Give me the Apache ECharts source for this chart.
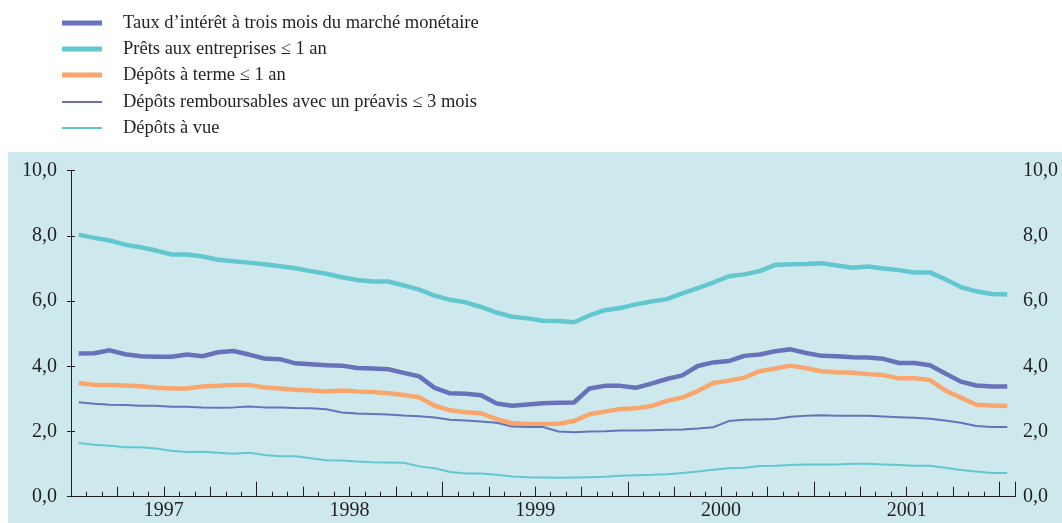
<!DOCTYPE html>
<html>
<head>
<meta charset="utf-8">
<script src="https://cdn.jsdelivr.net/npm/echarts@6/dist/echarts.min.js"></script>
<style>
  html, body { margin: 0; padding: 0; background: #fff; }
  #taux { width: 1062px; height: 523px; }
</style>
</head>
<body>
<div id="taux"></div>
<script>
// annees affichees sous l'axe (etiquette au milieu de chaque annee)
var years = ['1997', '1998', '1999', '2000', '2001'];

// un point par mois, de janvier 1997 a janvier 2002
var months = [];
for (var y = 1997; y <= 2002; y++) {
    for (var m = 1; m <= 12; m++) {
        if (months.length < 61) months.push(y + '-' + (m < 10 ? '0' + m : m));
    }
}

var tauxMarche = [
    4.39, 4.40, 4.49, 4.37, 4.31, 4.29, 4.29, 4.36, 4.31, 4.43, 4.47, 4.36,
    4.24, 4.22, 4.09, 4.06, 4.03, 4.02, 3.95, 3.93, 3.91, 3.80, 3.69, 3.34,
    3.17, 3.16, 3.11, 2.86, 2.79, 2.83, 2.87, 2.88, 2.89, 3.32, 3.40, 3.40,
    3.34, 3.47, 3.61, 3.72, 4.01, 4.12, 4.16, 4.32, 4.36, 4.46, 4.52, 4.41,
    4.32, 4.31, 4.28, 4.27, 4.23, 4.10, 4.10, 4.03, 3.78, 3.53, 3.41, 3.38,
    3.38
];
var pretsEntreprises = [
    8.04, 7.94, 7.86, 7.73, 7.65, 7.55, 7.43, 7.43, 7.37, 7.27, 7.22, 7.18,
    7.13, 7.07, 7.01, 6.92, 6.84, 6.73, 6.65, 6.60, 6.60, 6.48, 6.35, 6.17,
    6.04, 5.96, 5.82, 5.65, 5.52, 5.47, 5.40, 5.39, 5.35, 5.56, 5.72, 5.79,
    5.90, 5.99, 6.06, 6.24, 6.40, 6.57, 6.76, 6.82, 6.92, 7.11, 7.13, 7.14,
    7.16, 7.09, 7.02, 7.06, 7.00, 6.95, 6.88, 6.88, 6.67, 6.43, 6.30, 6.22,
    6.20
];
var depotsTerme = [
    3.49, 3.43, 3.43, 3.41, 3.39, 3.34, 3.32, 3.32, 3.38, 3.40, 3.43, 3.43,
    3.35, 3.32, 3.28, 3.26, 3.23, 3.26, 3.23, 3.21, 3.17, 3.12, 3.05, 2.79,
    2.65, 2.59, 2.56, 2.38, 2.26, 2.23, 2.23, 2.24, 2.32, 2.53, 2.61, 2.69,
    2.71, 2.78, 2.94, 3.04, 3.24, 3.49, 3.56, 3.65, 3.85, 3.93, 4.02, 3.94,
    3.85, 3.82, 3.80, 3.76, 3.73, 3.63, 3.63, 3.58, 3.26, 3.04, 2.82, 2.80,
    2.78
];
var depotsPreavis = [
    2.90, 2.85, 2.82, 2.81, 2.79, 2.79, 2.76, 2.76, 2.74, 2.73, 2.74, 2.77,
    2.74, 2.74, 2.72, 2.71, 2.68, 2.58, 2.55, 2.54, 2.52, 2.49, 2.47, 2.43,
    2.36, 2.34, 2.31, 2.27, 2.15, 2.14, 2.14, 2.00, 1.98, 2.00, 2.01, 2.03,
    2.03, 2.04, 2.05, 2.06, 2.09, 2.13, 2.32, 2.36, 2.37, 2.38, 2.45, 2.48,
    2.50, 2.48, 2.48, 2.48, 2.46, 2.44, 2.42, 2.39, 2.34, 2.27, 2.17, 2.14,
    2.14
];
var depotsVue = [
    1.65, 1.59, 1.56, 1.52, 1.52, 1.48, 1.41, 1.37, 1.38, 1.35, 1.32, 1.35,
    1.28, 1.24, 1.24, 1.18, 1.12, 1.11, 1.08, 1.06, 1.05, 1.04, 0.93, 0.87,
    0.76, 0.71, 0.71, 0.67, 0.62, 0.60, 0.59, 0.58, 0.59, 0.60, 0.61, 0.64,
    0.66, 0.67, 0.69, 0.73, 0.77, 0.83, 0.87, 0.89, 0.94, 0.95, 0.97, 0.99,
    0.99, 0.99, 1.01, 1.01, 0.99, 0.97, 0.95, 0.95, 0.89, 0.82, 0.77, 0.73,
    0.73
];

var noms = [
    'Taux d\u2019intérêt à trois mois du marché monétaire',
    'Prêts aux entreprises \u2264 1 an',
    'Dépôts à terme \u2264 1 an',
    'Dépôts remboursables avec un préavis \u2264 3 mois',
    'Dépôts à vue'
];

var police = '"Liberation Serif", "DejaVu Serif", serif';
var encre = '#231f20';

// chaque mois est place au milieu de sa case
function points(vals) {
    return vals.map(function (v, i) { return [i + 0.5, v]; });
}

function serie(nom, vals, couleur, epaisseur) {
    return {
        name: nom,
        type: 'line',
        data: points(vals),
        symbol: 'none',
        smooth: false,
        lineStyle: { color: couleur, width: epaisseur },
        itemStyle: { color: couleur },
        emphasis: { disabled: true }
    };
}

// deux legendes : traits epais puis traits fins
function legende(items, haut, epaisseur) {
    return {
        orient: 'vertical',
        left: 57,
        top: haut,
        icon: 'rect',
        itemWidth: 40,
        itemHeight: epaisseur,
        itemGap: 6,
        selectedMode: false,
        data: items,
        textStyle: {
            color: encre,
            fontFamily: police,
            fontSize: 18.5,
            lineHeight: 20,
            padding: [0, 0, 0, 16]
        }
    };
}

function axeX(pas, longueur, avecTexte) {
    return {
        type: 'value',
        min: 0,
        max: 61,
        interval: pas,
        position: 'bottom',
        splitLine: { show: false },
        axisLine: { show: avecTexte, lineStyle: { color: encre, width: 1 } },
        axisTick: { show: true, inside: true, length: longueur, lineStyle: { color: encre, width: 1 } },
        axisLabel: {
            show: avecTexte,
            margin: 4,
            color: encre,
            fontFamily: police,
            fontSize: 20,
            formatter: function (v) {
                return v % 12 === 6 ? years[(v - 6) / 12] : '';
            }
        }
    };
}

function axeY(cote, marge) {
    return {
        type: 'value',
        position: cote,
        min: 0,
        max: 10,
        interval: 2,
        splitLine: { show: false },
        axisLine: { show: true, lineStyle: { color: encre, width: 1 } },
        axisTick: { show: true, inside: true, length: 4, lineStyle: { color: encre } },
        axisLabel: {
            margin: marge,
            color: encre,
            fontFamily: police,
            fontSize: 20,
            formatter: function (v) { return v.toFixed(1).replace('.', ','); }
        }
    };
}

var chart = echarts.init(document.getElementById('taux'), null, { renderer: 'canvas' });

var option = {
    animation: false,
    backgroundColor: '#ffffff',
    graphic: [{
        type: 'rect',
        z: -10,
        silent: true,
        shape: { x: 8, y: 152, width: 1054, height: 371 },
        style: { fill: '#cde9ee' }
    }],
    legend: [
        legende(noms.slice(0, 3), 8, 5),
        legende(noms.slice(3), 87, 2)
    ],
    grid: {
        left: 71,
        right: 47,
        top: 170.7,
        bottom: 26.3,
        containLabel: false,
        outerBoundsMode: 'none'
    },
    xAxis: [
        axeX(1, 5, true),
        axeX(3, 10, false),
        axeX(12, 15, false)
    ],
    yAxis: [
        axeY('left', 14),
        axeY('right', 8)
    ],
    series: [
        serie(noms[0], tauxMarche, '#6673b8', 4.5),
        serie(noms[1], pretsEntreprises, '#63c7d0', 4.5),
        serie(noms[2], depotsTerme, '#f9a66e', 4.5),
        serie(noms[3], depotsPreavis, '#6673b8', 2),
        serie(noms[4], depotsVue, '#63c7d0', 2)
    ]
};

chart.setOption(option);
</script>
</body>
</html>
